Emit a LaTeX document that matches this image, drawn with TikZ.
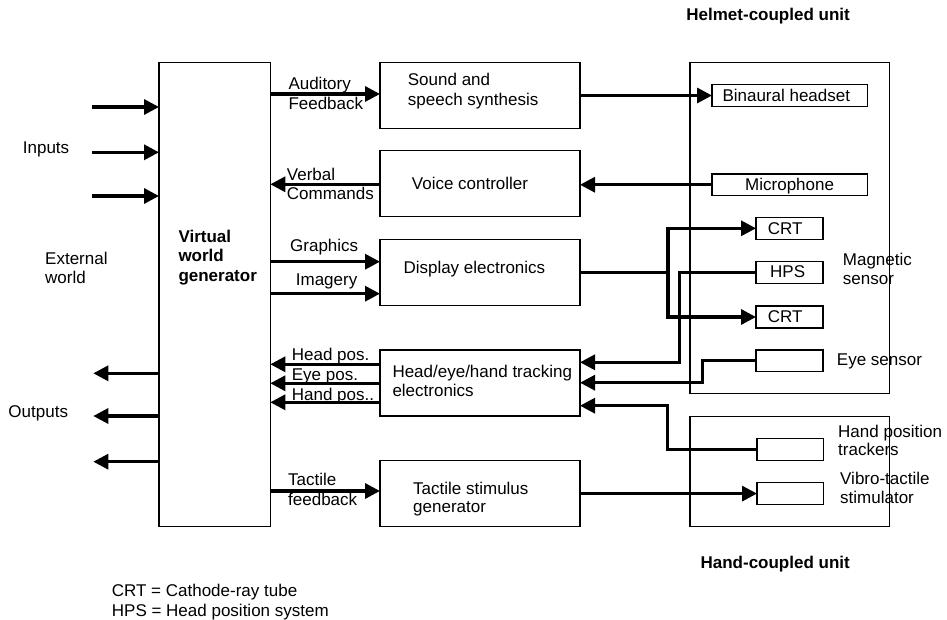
\documentclass[tikz,border=0pt]{standalone}
\usepackage{fontspec}
\setmainfont{Liberation Sans}
\usetikzlibrary{arrows.meta}
\begin{document}
\begin{tikzpicture}[x=1pt,y=-1pt,
  box/.style={draw, line width=1.3pt, inner sep=0pt, outer sep=0pt, anchor=north west},
  lbl/.style={anchor=base west, inner sep=0pt, font=\fontsize{17}{20}\selectfont},
  lblb/.style={anchor=base west, inner sep=0pt, font=\fontsize{17}{20}\selectfont\bfseries},
  ttl/.style={anchor=base east, inner sep=0pt, font=\fontsize{17}{20}\selectfont\bfseries},
  link/.style={line width=3.2pt},
  arrow/.style={link, -{Triangle[length=15pt,width=15pt]}}]
\useasboundingbox (0,0) rectangle (947,620);

% blocks
\node[box, minimum width=111.3pt, minimum height=464.4pt] (vwg) at (159,62.3) {};
\node[box, minimum width=200pt, minimum height=66.4pt] (sound) at (380,62.3) {};
\node[box, minimum width=200pt, minimum height=66pt] (voice) at (380,150.7) {};
\node[box, minimum width=200pt, minimum height=66pt] (disp) at (380,239.3) {};
\node[box, minimum width=200pt, minimum height=66pt] (track) at (380,350) {};
\node[box, minimum width=200pt, minimum height=66pt] (tact) at (380,460.7) {};
\node[box, minimum width=199.3pt, minimum height=331.2pt] (helmet) at (690,62.3) {};
\node[box, minimum width=199.3pt, minimum height=110pt] (handu) at (690,416.7) {};
\node[box, minimum width=155.3pt, minimum height=22.4pt] (binaural) at (712,84.3) {};
\node[box, minimum width=155.3pt, minimum height=21.5pt] (micro) at (712,174) {};
\node[box, minimum width=67pt, minimum height=22pt] (crt1) at (756,217.3) {};
\node[box, minimum width=67pt, minimum height=21.6pt] (hps) at (756,261.7) {};
\node[box, minimum width=67pt, minimum height=22pt] (crt2) at (756,306) {};
\node[box, minimum width=67pt, minimum height=21.7pt] (eye) at (756,350) {};
\node[box, minimum width=66.3pt, minimum height=22.2pt] (handtr) at (757,438.5) {};
\node[box, minimum width=66.3pt, minimum height=21.8pt] (vibro) at (757,482.7) {};

% rows and bends
\coordinate (in1) at (92.3,107);
\coordinate (in2) at (92.3,152.3);
\coordinate (in3) at (92.3,196);
\coordinate (out1) at (93.3,373.3);
\coordinate (out2) at (93.3,416);
\coordinate (out3) at (93.3,461.7);
\coordinate (rAud) at (0,94);
\coordinate (rVerb) at (0,184.3);
\coordinate (rGra) at (0,261.7);
\coordinate (rImg) at (0,293.7);
\coordinate (rHead) at (0,364.3);
\coordinate (rEye) at (0,383.3);
\coordinate (rHand) at (0,402.3);
\coordinate (rTact) at (0,491);
\coordinate (dj) at (668,272.3);
\coordinate (hpsRow) at (679.3,362.3);
\coordinate (eyeRow) at (702.7,382.7);
\coordinate (handRow) at (667.3,405.7);

% external world
\draw[arrow] (in1) -- (in1 -| vwg.west);
\draw[arrow] (in2) -- (in2 -| vwg.west);
\draw[arrow] (in3) -- (in3 -| vwg.west);
\draw[arrow] (out1 -| vwg.west) -- (out1);
\draw[arrow] (out2 -| vwg.west) -- (out2);
\draw[arrow] (out3 -| vwg.west) -- (out3);

% generator to processing blocks
\draw[arrow] (vwg.east |- rAud) -- (sound.west |- rAud);
\draw[arrow] (voice.west |- rVerb) -- (vwg.east |- rVerb);
\draw[arrow] (vwg.east |- rGra) -- (disp.west |- rGra);
\draw[arrow] (vwg.east |- rImg) -- (disp.west |- rImg);
\draw[arrow] (track.west |- rHead) -- (vwg.east |- rHead);
\draw[arrow] (track.west |- rEye) -- (vwg.east |- rEye);
\draw[arrow] (track.west |- rHand) -- (vwg.east |- rHand);
\draw[arrow] (vwg.east |- rTact) -- (tact.west |- rTact);

% processing blocks to units
\draw[arrow] (sound.east |- binaural.west) -- (binaural.west);
\draw[arrow] (micro.west) -- (voice.east |- micro.west);
\draw[link] (disp.east |- dj) -- (dj);
\draw[arrow] (dj) |- (crt1.west);
\draw[arrow] (dj) |- (crt2.west);
\draw[arrow] (hps.west) -| (hpsRow) -- (track.east |- hpsRow);
\draw[arrow] (eye.west) -| (eyeRow) -- (track.east |- eyeRow);
\draw[arrow] (handtr.west) -| (handRow) -- (track.east |- handRow);
\draw[arrow] (tact.east |- vibro.west) -- (vibro.west);

% labels
\node[lbl] (tInputs) at (22.7,154) {Inputs};
\node[lbl] (tExt1) at (45,264.3) {External};
\node[lbl] (tExt2) at (45,283.3) {world};
\node[lbl] (tOut) at (8.3,417) {Outputs};
\node[lblb] (tV1) at (178.3,242.3) {Virtual};
\node[lblb] (tV2) at (178.3,261.7) {world};
\node[lblb] (tV3) at (178.3,281.7) {generator};
\node[lbl] (tAud1) at (288.3,90) {Auditory};
\node[lbl] (tAud2) at (288.3,110) {Feedback};
\node[lbl] (tSnd1) at (407.7,86) {Sound and};
\node[lbl] (tSnd2) at (407.7,105.7) {speech synthesis};
\node[lbl] (tVrb1) at (286.7,180.7) {Verbal};
\node[lbl] (tVrb2) at (286.7,200) {Commands};
\node[lbl] (tVoice) at (411.7,189.3) {Voice controller};
\node[lbl] (tGra) at (290,251.7) {Graphics};
\node[lbl] (tImg) at (295.7,285.7) {Imagery};
\node[lbl] (tDisp) at (403.3,273.3) {Display electronics};
\node[lbl] (tHead) at (291.7,360.7) {Head pos.};
\node[lbl] (tEye) at (291.7,380) {Eye pos.};
\node[lbl] (tHand) at (291.7,400) {Hand pos..};
\node[lbl] (tTrk1) at (392.3,377.7) {Head/eye/hand tracking};
\node[lbl] (tTrk2) at (392.3,396.7) {electronics};
\node[lbl] (tTf1) at (288,485.7) {Tactile};
\node[lbl] (tTf2) at (288,505) {feedback};
\node[lbl] (tTs1) at (413,494) {Tactile stimulus};
\node[lbl] (tTs2) at (413,512.7) {generator};
\node[lbl] (tBin) at (722.3,101.7) {Binaural headset};
\node[lbl] (tMic) at (745,191) {Microphone};
\node[lbl] (tCrt1) at (767.7,235) {CRT};
\node[lbl] (tHps) at (770,277.7) {HPS};
\node[lbl] (tCrt2) at (767.7,322.7) {CRT};
\node[lbl] (tMag1) at (842.7,265.7) {Magnetic};
\node[lbl] (tMag2) at (842.7,284) {sensor};
\node[lbl] (tEyeS) at (836.7,365.3) {Eye sensor};
\node[lbl] (tHpt1) at (838,437.3) {Hand position};
\node[lbl] (tHpt2) at (838,455.7) {trackers};
\node[lbl] (tVib1) at (840,484.3) {Vibro-tactile};
\node[lbl] (tVib2) at (840,503.3) {stimulator};
\node[ttl] (tHelmet) at (850,21) {Helmet-coupled unit};
\node[ttl] (tHandU) at (850,568) {Hand-coupled unit};
\node[lbl] (tKey1) at (111.7,596) {CRT = Cathode-ray tube};
\node[lbl] (tKey2) at (111.7,616) {HPS = Head position system};
\end{tikzpicture}
\end{document}
